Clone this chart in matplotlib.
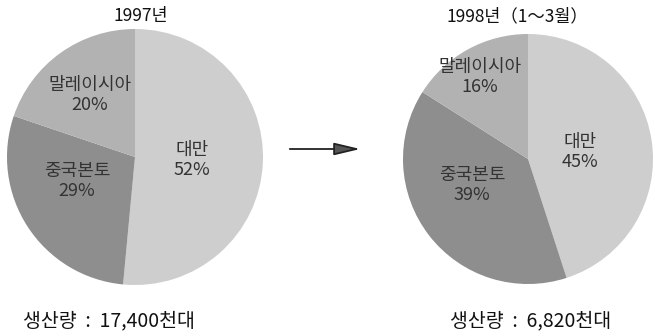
import matplotlib
matplotlib.use("Agg")
import matplotlib.pyplot as plt
from matplotlib.patches import FancyArrowPatch

plt.rcParams['font.family'] = ['Noto Sans CJK KR', 'DejaVu Sans']

# Regional shares of production
regions = ["대만", "중국본토", "말레이시아"]
share_1997 = [52, 29, 20]
share_1998 = [45, 39, 16]
titles = ["1997년", "1998년（1～3월）"]
totals = ["생산량  :  17,400천대", "생산량  :  6,820천대"]
colors = ["#cecece", "#8e8e8e", "#b2b2b2"]

W, H = 655, 336
fig = plt.figure(figsize=(W / 100, H / 100), dpi=100)
ax = fig.add_axes([0, 0, 1, 1])

pies = [
    dict(values=share_1997, center=(135, H - 157), radius=128,
         label_pos=[(192, 160), (77, 181), (90, 95)],
         title_pos=(141, 16), total_pos=(109, 321)),
    dict(values=share_1998, center=(528, H - 159), radius=125,
         label_pos=[(580, 152), (472, 185), (480, 77)],
         title_pos=(517, 16), total_pos=(531, 321)),
]

for p, title, total in zip(pies, titles, totals):
    ax.pie(p["values"], colors=colors, startangle=90, counterclock=False,
           center=p["center"], radius=p["radius"], frame=True,
           wedgeprops=dict(linewidth=0))
    for name, val, (lx, ly) in zip(regions, p["values"], p["label_pos"]):
        ax.text(lx, H - ly, f"{name}\n{val}%", ha='center', va='center',
                fontsize=13, color='#333333', linespacing=1.1)
    tx, ty = p["title_pos"]
    ax.text(tx, H - ty, title, ha='center', va='center', fontsize=12.5,
            color='#111111')
    bx, by = p["total_pos"]
    ax.text(bx, H - by, total, ha='center', va='center', fontsize=14,
            color='#111111')

ax.set_xlim(0, W)
ax.set_ylim(0, H)
ax.set_aspect('equal')
ax.axis('off')

arrow = FancyArrowPatch((287, H - 149), (363, H - 149),
                        arrowstyle='-|>,head_length=16,head_width=3.8',
                        mutation_scale=1, linewidth=1.3,
                        edgecolor='#222222', facecolor='#555555')
ax.add_patch(arrow)

fig.savefig("out.png", dpi=100)
